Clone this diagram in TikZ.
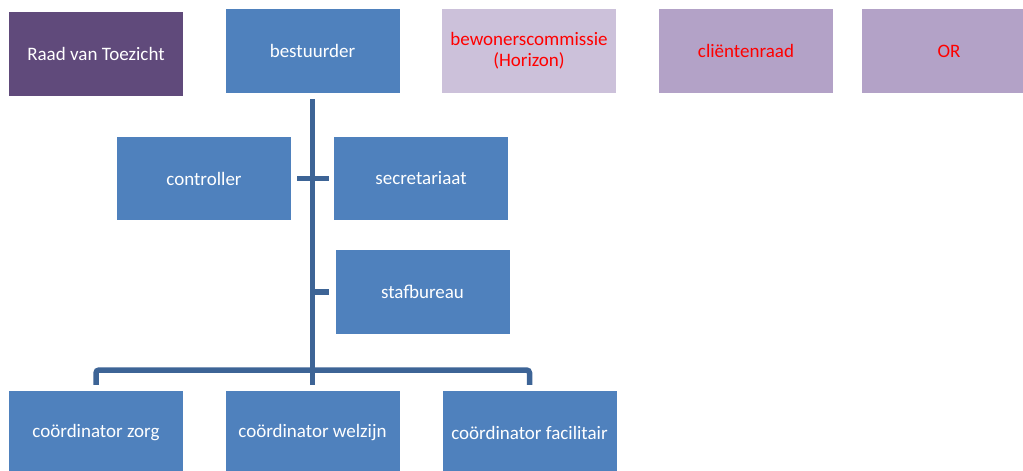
\documentclass[tikz,border=0pt]{standalone}
\usepackage{fontspec}
\setmainfont{Carlito}
\usetikzlibrary{calc}
\definecolor{boxblue}{HTML}{4F81BD}
\definecolor{darkpurple}{HTML}{604A7B}
\definecolor{lightlav}{HTML}{CCC1DA}
\definecolor{midlav}{HTML}{B3A2C7}
\definecolor{linkblue}{HTML}{3D6496}
\definecolor{txtred}{HTML}{FF0000}
\tikzset{
  box/.style={rectangle, draw=none, minimum width=174pt, minimum height=84pt, inner sep=2pt, align=center, font=\fontsize{19}{21}\selectfont, text=white},
  bluebox/.style={box, fill=boxblue},
  rvtbox/.style={box, fill=darkpurple},
  lavbox/.style={box, fill=lightlav, text=txtred},
  midbox/.style={box, fill=midlav, text=txtred},
  link/.style={draw=linkblue, line width=5.5pt},
}
\begin{document}
\begin{tikzpicture}[x=1pt,y=-1pt]
\useasboundingbox (0,0) rectangle (1023,471);
\clip (0,0) rectangle (1023,471);
\node[rvtbox] (rvt) at (96,54) {Raad van Toezicht};
\node[bluebox] (best) at (312.5,51) {bestuurder};
\node[lavbox] (bew) at (529,51) {bewonerscommissie\\(Horizon)};
\node[midbox] (client) at (746,51) {cliëntenraad};
\node[midbox] (or) at (949,51) {OR};
\node[bluebox, minimum height=83pt] (contr) at (204,178.5) {controller};
\node[bluebox, minimum height=83pt] (secr) at (421,178.5) {secretariaat};
\node[bluebox] (staf) at (422.5,292) {stafbureau};
\node[bluebox] (zorg) at (96,433) {coördinator zorg};
\node[bluebox] (welz) at (312.5,433) {coördinator welzijn};
\node[bluebox] (fac) at (529.5,433) {coördinator facilitair};
% connectors
\coordinate (top) at ($(best.south)+(0,6)$);
\coordinate (bar) at (0,370);
\path[link] (top) -- ($(welz.north)+(0,-6)$);
\path[link] ($(contr.east)+(6,0)$) -- ($(secr.west)+(-5,0)$);
\path[link] (top |- staf.west) -- ($(staf.west)+(-6,0)$);
\path[link, rounded corners=3pt] ($(zorg.north)+(0,-6)$) -- (zorg.north |- bar) -- (fac.north |- bar) -- ($(fac.north)+(0,-6)$);
\end{tikzpicture}
\end{document}
